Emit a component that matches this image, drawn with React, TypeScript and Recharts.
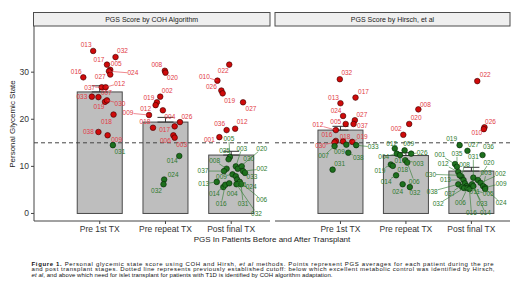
import { ComposedChart, Bar, ErrorBar, Scatter, XAxis, YAxis, ReferenceLine } from 'recharts';

// stages on the x axis (shared by both facets)
const stages = ['Pre 1st TX', 'Pre repeat TX', 'Post final TX'];

// bar heights = mean PGS per stage, with standard error on top
const cohMean = [25.8, 19.4, 12.4];
const cohSe = [1.3, 1.0, 0.8];
const hirschMean = [17.7, 12.3, 9.0];
const hirschSe = [0.8, 0.6, 0.8];

const CUTOFF = 15;

type Pt = [string, number, number]; // patient id, jittered stage position, PGS

// PGS by COH algorithm
const cohPre1st: Pt[] = [
  ['013', 0.90, 34.5], ['032', 1.24, 33.2], ['017', 1.11, 31.6], ['005', 1.16, 30.5],
  ['024', 1.14, 30.2], ['027', 1.16, 29.5], ['016', 0.75, 28.9], ['037', 1.03, 26.8],
  ['012', 1.09, 26.8], ['033', 0.88, 24.8], ['007', 0.98, 24.7], ['019', 1.08, 23.7],
  ['030', 1.11, 24.0], ['018', 1.21, 21.0], ['038', 0.98, 17.3], ['009', 1.12, 16.6],
  ['031', 1.20, 14.5],
];
const cohPreRepeat: Pt[] = [
  ['008', 1.99, 30.3], ['020', 2.00, 29.9], ['002', 1.92, 24.8], ['019', 1.87, 23.6],
  ['012', 1.85, 23.0], ['004', 1.96, 21.9], ['009', 1.75, 20.9], ['026', 2.22, 19.4],
  ['018', 1.81, 18.2], ['017', 2.14, 18.5], ['006', 2.12, 16.6], ['003', 2.14, 16.1],
  ['014', 2.21, 12.2], ['024', 1.98, 7.2], ['032', 1.97, 6.2],
];
const cohPostFinal: Pt[] = [
  ['022', 2.97, 31.6], ['010', 2.79, 28.2], ['026', 2.85, 26.1], ['019', 2.87, 25.5],
  ['027', 3.18, 23.6], ['036', 2.93, 17.7], ['012', 3.06, 18.0], ['001', 2.82, 16.2],
  ['005', 2.98, 12.0], ['035', 2.96, 11.5], ['008', 2.93, 9.5], ['037', 2.89, 9.0],
  ['003', 3.07, 10.0], ['020', 3.10, 9.5], ['030', 3.16, 10.0], ['002', 3.18, 9.0],
  ['033', 3.21, 8.6], ['009', 3.02, 8.3], ['011', 3.07, 7.9], ['024', 3.09, 7.2],
  ['006', 3.13, 6.7], ['031', 3.15, 6.2], ['032', 3.08, 6.2], ['013', 2.78, 6.7],
  ['014', 2.88, 5.6], ['016', 2.91, 6.1], ['004', 2.97, 6.4],
];

// PGS by Hirsch, et al
const hirPre1st: Pt[] = [
  ['032', 0.99, 28.5], ['017', 1.23, 24.6], ['013', 1.00, 23.4], ['024', 1.04, 20.7],
  ['027', 1.22, 19.8], ['005', 1.08, 19.0], ['037', 1.20, 19.0], ['012', 0.93, 17.7],
  ['016', 0.93, 15.4], ['018', 1.04, 15.3], ['019', 1.18, 15.2], ['030', 0.91, 15.1],
  ['007', 0.91, 14.3], ['009', 1.09, 14.6], ['033', 1.24, 14.5], ['038', 1.12, 12.9],
  ['031', 0.88, 9.3],
];
const hirPreRepeat: Pt[] = [
  ['008', 2.19, 22.1], ['020', 2.05, 19.0], ['002', 1.96, 16.7], ['012', 1.83, 13.8],
  ['009', 1.98, 13.4], ['026', 2.08, 12.7], ['004', 1.86, 12.7], ['017', 1.91, 12.4],
  ['003', 1.99, 11.3], ['006', 2.02, 10.8], ['019', 1.77, 10.4], ['018', 1.80, 10.1],
  ['014', 1.85, 8.1], ['024', 1.95, 6.2], ['032', 2.06, 5.6],
];
const hirPostFinal: Pt[] = [
  ['022', 3.09, 28.1], ['026', 3.20, 18.3], ['010', 3.19, 17.9], ['019', 2.82, 14.5],
  ['027', 2.94, 13.3], ['036', 3.17, 12.4], ['031', 3.03, 7.6], ['001', 2.75, 10.5],
  ['035', 2.78, 9.9], ['012', 2.80, 8.8], ['008', 2.85, 7.8], ['020', 3.10, 7.1],
  ['030', 2.82, 8.1], ['002', 3.14, 6.5], ['003', 3.18, 5.8], ['009', 3.21, 5.5],
  ['013', 2.88, 7.1], ['038', 2.80, 6.2], ['037', 2.90, 6.4], ['011', 2.93, 5.8],
  ['005', 2.86, 5.6], ['024', 3.21, 5.2], ['032', 2.89, 5.4], ['006', 2.94, 5.4],
  ['033', 3.01, 6.2], ['016', 2.97, 5.2], ['014', 3.03, 5.8],
];

// repelled label placement (px from the point), same order as the points above
const cohPre1stNudge: [number, number][] = [
  [-7, -6], [7, -6], [-8, -5], [6, -6], [24, 2], [-10, 2], [-7, -6], [-12, 0], [14, -4],
  [-10, 0], [8, -4], [-6, 5], [13, 3], [-7, 7], [-10, 0], [9, 4], [7, 7],
];
const cohPreRepeatNudge: [number, number][] = [
  [-8, -6], [7, 5], [7, -6], [-8, -5], [-10, 4], [7, 6], [-21, -2], [7, -5], [-8, -6],
  [-10, 3], [-8, 5], [7, 7], [-7, 5], [9, -5], [-7, 6],
];
const cohPostFinalNudge: [number, number][] = [
  [-6, 6], [-13, -4], [-10, -4], [7, 7], [8, 6], [-7, -6], [7, -7], [-10, 3],
  [-1, -18], [-4, -9], [-12, -8], [-21, 0], [6, -18], [24, -20], [7, -8], [19, -2],
  [7, 4], [-11, 2], [6, 8], [14, 7], [22, 18], [2, 19], [20, 29], [-13, 2],
  [-9, 7], [-4, 19], [3, 10],
];
const hirPre1stNudge: [number, number][] = [
  [7, -6], [8, -6], [-7, -6], [-7, -5], [7, -5], [-10, -2], [9, 2], [-18, -5],
  [-9, -6], [2, -5], [10, -5], [-14, 3], [-11, 10], [-7, 7], [17, 2], [10, 5], [7, -6],
];
const hirPreRepeatNudge: [number, number][] = [
  [7, -5], [7, -6], [-7, -6], [-3, -5], [4, -7], [11, -1], [-13, 3], [0, 6],
  [13, 3], [7, 19], [-11, 6], [10, 4], [-10, 6], [-5, 7], [5, 6],
];
const hirPostFinalNudge: [number, number][] = [
  [8, -6], [6, -6], [-7, 4], [-8, -6], [6, -6], [6, -8], [0, -21], [-15, -9],
  [0, -13], [-15, -8], [3, -12], [11, -17], [-29, -1], [20, -9], [3, -13], [16, -4],
  [-18, 0], [-26, 7], [-15, 10], [8, 6], [26, 7], [16, 14], [-26, 16], [-7, 15],
  [10, 19], [2, 24], [12, 27],
];

const RED = '#cf0a0a';
const GREEN = '#1c6f1c';
const RED_TXT = '#e23b45';
const GREEN_TXT = '#2e7a2e';
const BAR_W = 45;

const buildPoints = (groups: Pt[][], nudges: [number, number][][]) =>
  groups.flatMap((g, i) =>
    g.map(([id, x, y], j) => ({ id, x, y, dx: nudges[i][j][0], dy: nudges[i][j][1] }))
  );

const cohPoints = buildPoints(
  [cohPre1st, cohPreRepeat, cohPostFinal],
  [cohPre1stNudge, cohPreRepeatNudge, cohPostFinalNudge]
);
const hirPoints = buildPoints(
  [hirPre1st, hirPreRepeat, hirPostFinal],
  [hirPre1stNudge, hirPreRepeatNudge, hirPostFinalNudge]
);

// number axis gives the bar no band, so draw it at a fixed width round its centre
const BarShape = (p: any) => {
  const cx = p.x + (p.width || 0) / 2;
  return (
    <rect x={cx - BAR_W / 2} y={p.y} width={BAR_W} height={p.height}
      fill="#bebebe" stroke="#4a4a4a" strokeWidth={1} />
  );
};

const Dot = (p: any) => {
  const { cx, cy, payload } = p;
  const hi = payload.y > CUTOFF;
  return (
    <circle cx={cx} cy={cy} r={2.8} fill={hi ? RED : GREEN}
      stroke={hi ? '#3a0000' : '#062806'} strokeWidth={0.6} />
  );
};

const Tag = (p: any) => {
  const { cx, cy, payload } = p;
  const { dx, dy, id } = payload;
  const col = payload.y > CUTOFF ? RED_TXT : GREEN_TXT;
  const lx = cx + dx;
  const ly = cy + dy;
  const d = Math.hypot(dx, dy);
  // stop the segment at the label's box edge
  const t = Math.min(dx ? 5.5 / Math.abs(dx) : 1, dy ? 3 / Math.abs(dy) : 1);
  return (
    <g>
      {d > 11 && (
        <line x1={cx} y1={cy} x2={lx - dx * t} y2={ly - dy * t} stroke={col} strokeWidth={0.6} />
      )}
      <text x={lx} y={ly} dy="0.35em" textAnchor="middle" fontSize={6.5} fill={col}>
        {id}
      </text>
    </g>
  );
};

const Panel = ({ means, errs, points, showY, left, width }: any) => {
  const bars = stages.map((s, i) => ({ x: i + 1, stage: s, mean: means[i], err: [0, errs[i]] }));
  return (
    <div style={{ position: 'absolute', left, top: 0 }}>
      <ComposedChart
        width={width}
        height={236}
        data={bars}
        margin={{ top: 26, right: 2, bottom: 0, left: showY ? 0 : 2 }}
      >
        <XAxis
          dataKey="x"
          type="number"
          domain={[0, 3.59]}
          ticks={[1, 2, 3]}
          interval={0}
          allowDataOverflow
          tickFormatter={(v: number) => stages[v - 1]}
          height={15}
          tickSize={3}
          stroke="#444"
          tick={{ fontSize: 8.5, fill: '#333' }}
        />
        <YAxis
          type="number"
          scale="linear"
          domain={[-1.6, 39.8]}
          ticks={[0, 10, 20, 30]}
          allowDataOverflow
          hide={!showY}
          width={34}
          tickSize={3}
          stroke="#444"
          tick={{ fontSize: 8.5, fill: '#333' }}
        />
        <Bar dataKey="mean" shape={BarShape} isAnimationActive={false}>
          <ErrorBar dataKey="err" width={8} stroke="#333" strokeWidth={1} direction="y" />
        </Bar>
        <ReferenceLine y={CUTOFF} stroke="#444" strokeDasharray="4 3" strokeWidth={1} />
        <Scatter data={points} dataKey="y" shape={Dot} isAnimationActive={false} />
        <Scatter data={points} dataKey="y" shape={Tag} isAnimationActive={false} />
      </ComposedChart>
    </div>
  );
};

const App = () => (
  <div
    style={{
      position: 'absolute', left: 0, top: 0, width: 520, height: 292, background: '#fff',
      fontFamily: '"Liberation Sans", Arial, sans-serif', overflow: 'hidden',
    }}
  >
    <Panel means={cohMean} errs={cohSe} points={cohPoints} showY left={0} width={272} />
    <Panel means={hirschMean} errs={hirschSe} points={hirPoints} showY={false} left={273} width={239} />
    <svg width={520} height={292} style={{ position: 'absolute', left: 0, top: 0, pointerEvents: 'none' }}>
      <rect x={33.5} y={12.5} width={236.5} height={13.5} fill="#efefef" stroke="#4d4d4d" strokeWidth={1} />
      <text x={151.7} y={19.4} dy="0.35em" textAnchor="middle" fontSize={7} fill="#1a1a1a">
        PGS Score by COH Algorithm
      </text>
      <rect x={275} y={12.5} width={235} height={13.5} fill="#efefef" stroke="#4d4d4d" strokeWidth={1} />
      <text x={392.5} y={19.4} dy="0.35em" textAnchor="middle" fontSize={7} fill="#1a1a1a">
        PGS Score by Hirsch, et al
      </text>
      <text transform="translate(12,124) rotate(-90)" dy="0.35em" textAnchor="middle" fontSize={8} fill="#222">
        Personal Glycemic State
      </text>
      <text x={272} y={239} dy="0.35em" textAnchor="middle" fontSize={8} fill="#222">
        PGS In Patients Before and After Transplant
      </text>
      <g fontSize={6} fill="#111">
        <text x={31.5} y={265.5} textLength={462} lengthAdjust="spacing">
          <tspan fontWeight="bold">Figure 1.</tspan> Personal glycemic state score using COH and Hirsh,{' '}
          <tspan fontStyle="italic">et al</tspan> methods. Points represent PGS averages for each patient during the pre
        </text>
        <text x={31.5} y={271.2} textLength={463} lengthAdjust="spacing">
          and post transplant stages. Dotted line represents previously established cutoff: below which excellent
          metabolic control was identified by Hirsch,
        </text>
        <text x={31.5} y={277} textLength={301} lengthAdjust="spacing">
          <tspan fontStyle="italic">et al</tspan>, and above which need for islet transplant for patients with T1D is
          identified by COH algorithm adaptation.
        </text>
      </g>
    </svg>
  </div>
);

export default App;
